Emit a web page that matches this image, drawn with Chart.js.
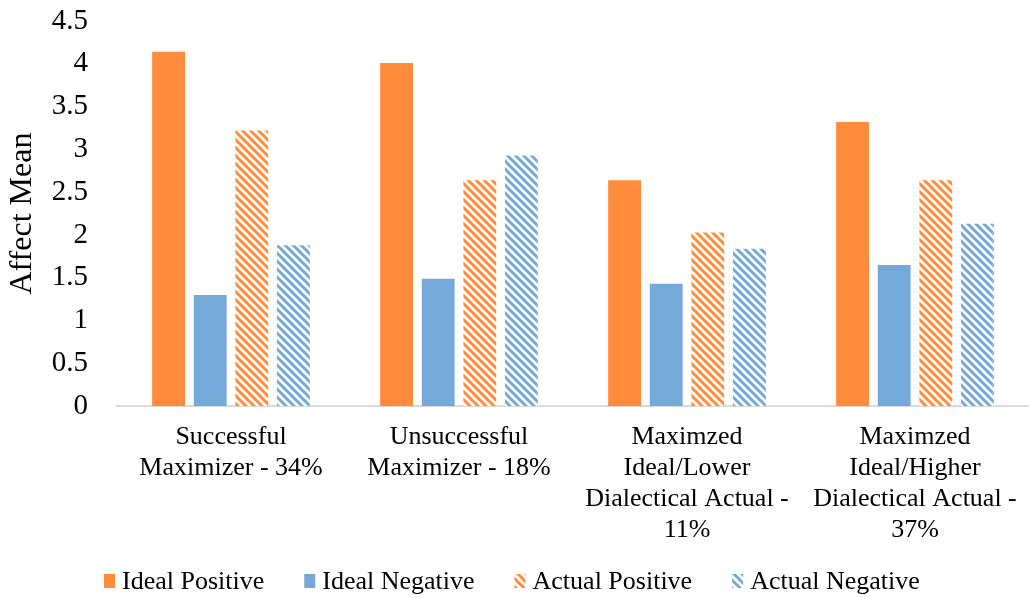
<!DOCTYPE html>
<html>
<head>
<meta charset="utf-8">
<script src="https://cdn.jsdelivr.net/npm/chart.js@4.4.0/dist/chart.umd.min.js"></script>
<style>
  html, body { margin: 0; padding: 0; background: #fff; }
  #wrap { width: 1029px; height: 598px; }
</style>
</head>
<body>
<div id="wrap"><canvas id="affectChart" width="1029" height="598"></canvas></div>
<script>
// groups on the x axis (multi-line labels)
let categories = [
    ['Successful', 'Maximizer - 34%'],
    ['Unsuccessful', 'Maximizer - 18%'],
    ['Maximzed', 'Ideal/Lower', 'Dialectical Actual -', '11%'],
    ['Maximzed', 'Ideal/Higher', 'Dialectical Actual -', '37%']
];
let seriesNames = ['Ideal Positive', 'Ideal Negative', 'Actual Positive', 'Actual Negative'];
let idealPositive  = [4.14, 4.01, 2.64, 3.32];
let idealNegative  = [1.30, 1.49, 1.43, 1.65];
let actualPositive = [3.22, 2.64, 2.03, 2.64];
let actualNegative = [1.88, 2.93, 1.84, 2.13];

const ORANGE = 'rgb(255, 139, 60)';
const BLUE = 'rgb(117, 169, 218)';
const SERIF = "'Liberation Serif', 'Times New Roman', serif";

// diagonal "\" stripes on white, for the actual series
function makeHatch(color) {
    const c = document.createElement('canvas');
    c.width = 8;
    c.height = 8;
    const g = c.getContext('2d');
    g.fillStyle = '#fff';
    g.fillRect(0, 0, 8, 8);
    g.strokeStyle = color;
    g.lineWidth = 3;
    g.beginPath();
    g.moveTo(-2, -2); g.lineTo(10, 10);
    g.moveTo(-10, -2); g.lineTo(2, 10);
    g.moveTo(6, -2); g.lineTo(18, 10);
    g.stroke();
    return g.createPattern(c, 'repeat');
}

// legend row under the axis labels: small box, then the series name
const bottomLegend = {
    id: 'bottomLegend',
    afterDraw(chart) {
        const c = chart.ctx;
        const y = 581;
        let x = 104;
        c.save();
        c.font = '26px ' + SERIF;
        c.textBaseline = 'middle';
        chart.data.datasets.forEach(ds => {
            c.fillStyle = ds.backgroundColor;
            c.fillRect(x, y - 7, 11, 14);
            c.fillStyle = '#000';
            c.fillText(ds.label, x + 18, y + 1);
            x += 18 + c.measureText(ds.label).width + 40;
        });
        c.restore();
    }
};

const ctx = document.getElementById('affectChart').getContext('2d');

const data = {
    labels: categories,
    datasets: [
        { label: seriesNames[0], data: idealPositive, backgroundColor: ORANGE },
        { label: seriesNames[1], data: idealNegative, backgroundColor: BLUE },
        { label: seriesNames[2], data: actualPositive, backgroundColor: makeHatch(ORANGE) },
        { label: seriesNames[3], data: actualNegative, backgroundColor: makeHatch(BLUE) }
    ]
};

const config = {
    type: 'bar',
    data: data,
    plugins: [bottomLegend],
    options: {
        responsive: false,
        animation: false,
        datasets: {
            bar: { barPercentage: 0.79, categoryPercentage: 0.73 }
        },
        layout: {
            padding: { top: 21, right: -2, left: 0, bottom: 37 }
        },
        scales: {
            x: {
                grid: { display: false, drawTicks: false },
                border: { display: true, color: '#d9d9d9', width: 2 },
                ticks: {
                    color: '#000',
                    maxRotation: 0,
                    autoSkip: false,
                    padding: 15,
                    font: { family: SERIF, size: 26, lineHeight: 1.2 }
                },
                // labels sit inside their own bands, no extra side room
                afterFit: s => { s.paddingLeft = 0; s.paddingRight = 0; }
            },
            y: {
                min: 0,
                max: 4.5,
                grid: { display: false, drawTicks: false },
                border: { display: false },
                ticks: {
                    stepSize: 0.5,
                    autoSkip: false,
                    color: '#000',
                    padding: 29,
                    font: { family: SERIF, size: 29 },
                    callback: v => String(v)
                },
                title: {
                    display: true,
                    text: 'Affect Mean',
                    color: '#000',
                    padding: 3,
                    font: { family: SERIF, size: 32 }
                },
                afterFit: s => { s.width = 117; s.paddingTop = 0; s.paddingBottom = 0; }
            }
        },
        plugins: {
            legend: { display: false },
            tooltip: { enabled: false }
        }
    }
};

new Chart(ctx, config);
</script>
</body>
</html>
